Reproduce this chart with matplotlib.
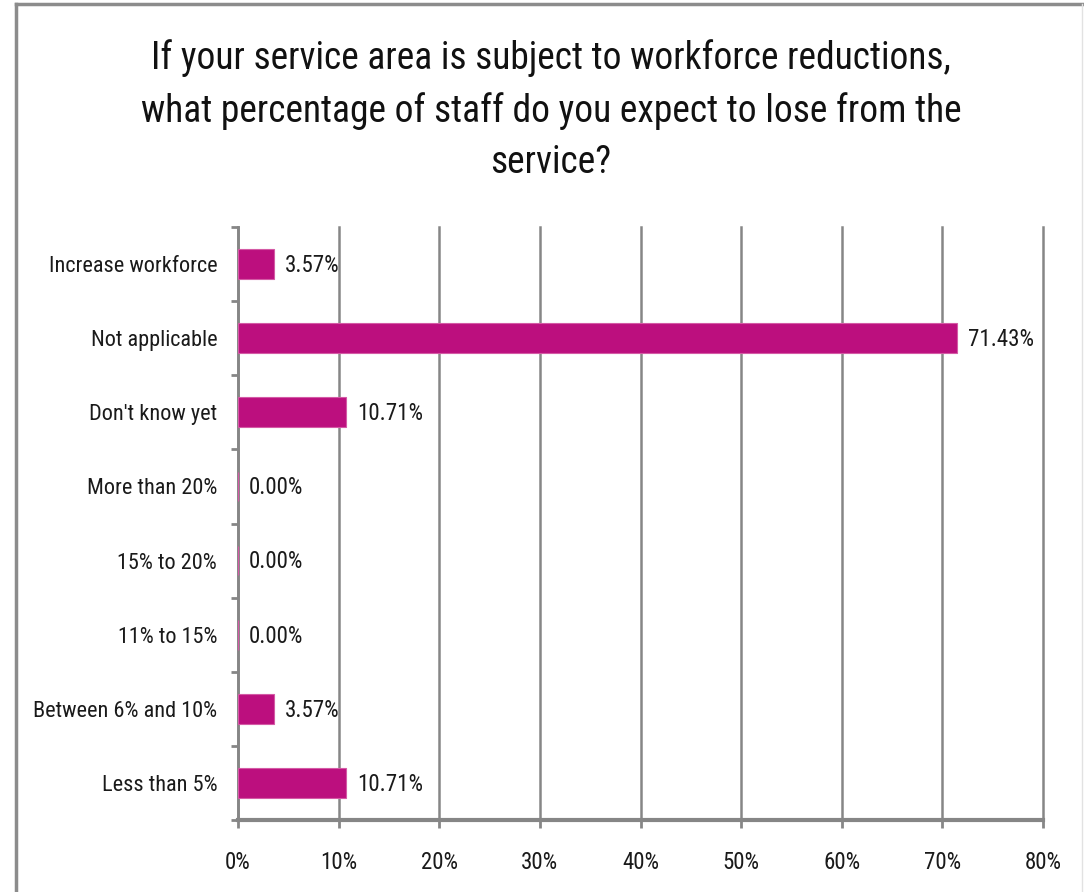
import os
import numpy as np
import matplotlib
matplotlib.use("Agg")
import matplotlib.pyplot as plt
from matplotlib import font_manager
from matplotlib.font_manager import FontProperties
from matplotlib.lines import Line2D

categories = ['Increase workforce', 'Not applicable', "Don't know yet", 'More than 20%',
              '15% to 20%', '11% to 15%', 'Between 6% and 10%', 'Less than 5%']
values = [3.57, 71.43, 10.71, 0.00, 0.00, 0.00, 3.57, 10.71]
xticks = [0, 10, 20, 30, 40, 50, 60, 70, 80]
title = ("If your service area is subject to workforce reductions,\n"
         "what percentage of staff do you expect to lose from the\n"
         "service?")

# the original text is squeezed horizontally, so look for a narrow face
files = set(font_manager.findSystemFonts() + [f.fname for f in font_manager.fontManager.ttflist])
def find_font(wants):
    for w in wants:
        hits = sorted(f for f in files if os.path.basename(f).startswith(w)
                      and 'italic' not in os.path.basename(f).lower()
                      and ('Regular' in os.path.basename(f) or '[' in os.path.basename(f)
                           or os.path.basename(f) == w + '.ttf'))
        if hits:
            return hits[0]
    return None

title_file = find_font(['LiberationSansNarrow-Regular', 'RobotoCondensed', 'DejaVuSansCondensed'])
label_file = find_font(['RobotoCondensed', 'DejaVuSansCondensed'])

def fp(fname, size):
    if fname:
        return FontProperties(fname=fname, size=size)
    return FontProperties(family='DejaVu Sans', size=size * 0.8)

bar_col = '#BC0F7E'
grid_col = '#868686'
txt_col = '#1a1a1a'

fig = plt.figure(figsize=(10.84, 8.92), dpi=100)
ax = fig.add_axes([238/1084, 1-820/892, (1043-238)/1084, (820-227)/892])

y = np.arange(len(categories))
ax.barh(y, values, height=0.4, color=bar_col, edgecolor='#D45AA5', linewidth=0.8, zorder=3)
ax.set_ylim(len(categories)-0.5, -0.5)
ax.set_xlim(0, 80)

ax.set_xticks(xticks)
ax.set_xticklabels(['{}%'.format(t) for t in xticks], fontproperties=fp(label_file, 16.5), color=txt_col)
ax.set_yticks(y)
ax.set_yticklabels(categories, fontproperties=fp(label_file, 16), color=txt_col)
# minor ticks at category boundaries
ax.set_yticks(np.arange(-0.5, len(categories)), minor=True)
ax.tick_params(axis='y', which='major', length=0, pad=15)
ax.tick_params(axis='y', which='minor', length=5, width=2, color=grid_col, direction='out')
ax.tick_params(axis='x', length=5.5, width=2, color=grid_col, direction='out', pad=17)

ax.xaxis.grid(True, color=grid_col, linewidth=1.8, zorder=0)
for gl in ax.get_xgridlines():
    gl.set_clip_on(False)
ax.set_axisbelow(True)
for s in ['top', 'right']:
    ax.spines[s].set_visible(False)
ax.spines['left'].set_color(grid_col)
ax.spines['left'].set_linewidth(2)
ax.spines['bottom'].set_color(grid_col)
ax.spines['bottom'].set_linewidth(3)

for yi, v in zip(y, values):
    ax.annotate('{:.2f}%'.format(v), xy=(v, yi), xytext=(8, -1), textcoords='offset points',
                va='center', ha='left', fontproperties=fp(label_file, 16.5), color=txt_col, zorder=4)

fig.text(551/1084, 1-110/892, title, ha='center', va='center',
         fontproperties=fp(title_file, 27), linespacing=1.48, color='#111111')

# outer chart border
fig.add_artist(Line2D([16/1084, 16/1084], [0, 1-4/892], color='#8c8c8c', linewidth=2.5))
fig.add_artist(Line2D([16/1084, 1], [1-4/892, 1-4/892], color='#8c8c8c', linewidth=2.5))
fig.add_artist(Line2D([1082/1084, 1082/1084], [0, 1-4/892], color='#e2e2e2', linewidth=1))

fig.savefig('out.png', dpi=100)
